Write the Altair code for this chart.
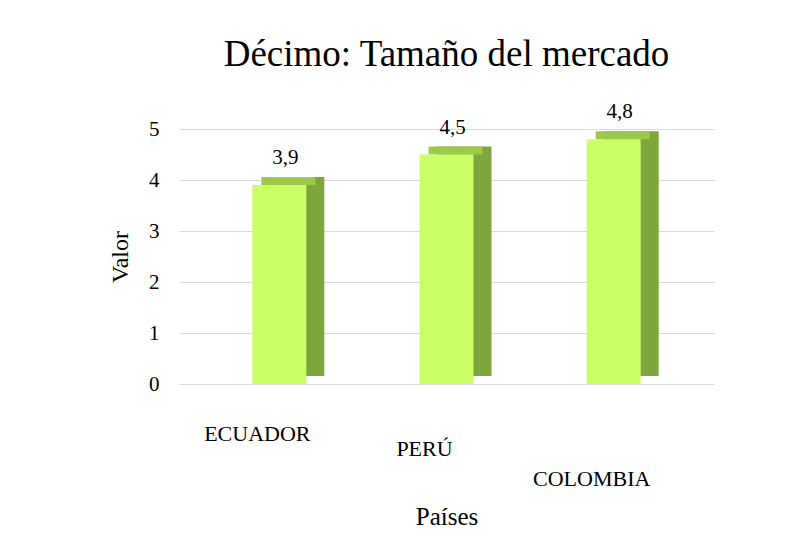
import altair as alt
import pandas as pd

paises = ["ECUADOR", "PERÚ", "COLOMBIA"]
valores = [3.9, 4.5, 4.8]
etiquetas = ["3,9", "4,5", "4,8"]

df = pd.DataFrame({"pais": paises, "valor": valores, "etiqueta": etiquetas})

FONT = "Liberation Serif"
FRONT = "#CCFF66"
SIDE = "#7FA63C"
TOP = "#9DC94A"
BAR_W = 54
DX, DY = 18, -8

x_enc = alt.X("pais:N", sort=paises,
              scale=alt.Scale(paddingInner=0, paddingOuter=0.1),
              axis=alt.Axis(labels=False, ticks=False, domain=False, grid=False,
                            title="Países", titleFont=FONT, titleFontSize=25,
                            titleFontWeight="normal", titlePadding=120,
                            titleColor="#000000"))
y_enc = alt.Y("valor:Q", scale=alt.Scale(domain=[0, 5]),
              axis=alt.Axis(values=[0, 1, 2, 3, 4, 5], title="Valor",
                            titleFont=FONT, titleFontSize=24,
                            titleFontWeight="normal", titleColor="#000000",
                            titlePadding=16, labelFont=FONT, labelFontSize=21,
                            labelColor="#000000", labelPadding=20,
                            ticks=False, domain=False,
                            gridColor="#D9D9D9", gridWidth=1))

base = alt.Chart(df)

side = base.mark_bar(color=SIDE, width=BAR_W, xOffset=DX, yOffset=DY, opacity=1).encode(x=x_enc, y=y_enc)
top = base.mark_tick(color=TOP, orient="horizontal", size=BAR_W, thickness=abs(DY),
                     xOffset=DX / 2, yOffset=DY / 2, opacity=1).encode(x=x_enc, y="valor:Q")
front = base.mark_bar(color=FRONT, width=BAR_W, opacity=1).encode(x=x_enc, y="valor:Q")
vals = base.mark_text(font=FONT, fontSize=21, color="#000000", dy=-27, dx=6).encode(
    x=x_enc, y="valor:Q", text="etiqueta:N")

drops = {"ECUADOR": 50, "PERÚ": 65, "COLOMBIA": 95}
cat_layers = []
for p in paises:
    cat_layers.append(
        base.transform_filter(alt.datum.pais == p)
        .mark_text(font=FONT, fontSize=22, color="#000000", baseline="middle", dx=-22)
        .encode(x=x_enc, y=alt.value(255 + drops[p]), text="pais:N")
    )

chart = alt.layer(side, top, front, vals, *cat_layers).properties(
    width=535, height=255,
    background="#FFFFFF",
    title=alt.TitleParams("Décimo: Tamaño del mercado", font=FONT, fontSize=37,
                          fontWeight="normal", color="#000000", offset=27,
                          anchor="middle"),
    padding={"left": 100, "top": 28, "right": 60, "bottom": 10},
).configure_view(strokeOpacity=0, strokeWidth=0)

chart.save("out.html", embed_options={"renderer": "svg", "actions": False})
